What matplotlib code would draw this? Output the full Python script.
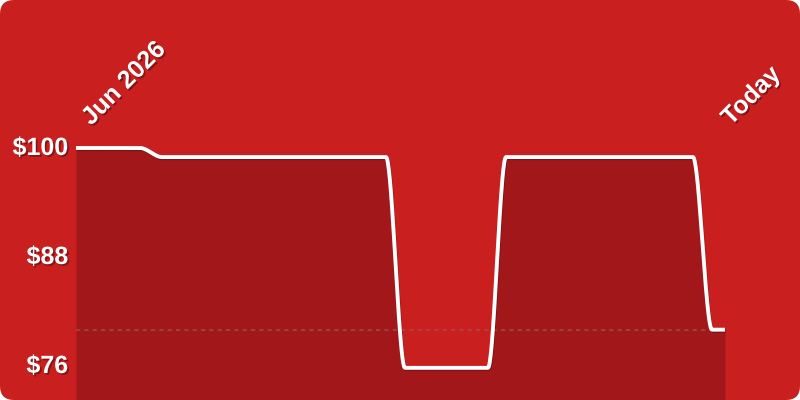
import matplotlib
matplotlib.use("Agg")
import numpy as np
import matplotlib.pyplot as plt
import matplotlib.patheffects as pe
from matplotlib.patches import FancyBboxPatch

# ---- data ----
day_index = [0, 9.86, 13.25, 47.77, 50.69, 63.48, 66.26, 95.07, 98.0, 100]
prices = [100, 100, 99, 99, 75.8, 75.8, 99, 99, 80, 80]
current_price = 80
tick_values = [100, 88, 76]
tick_labels = ["$100", "$88", "$76"]
start_label = "Jun 2026"
end_label = "Today"

BG = "#C91F1F"
FILL = "#A1171A"

plt.rcParams['font.family'] = ['Liberation Sans', 'DejaVu Sans']


def monotone_curve(x, y, n=40):
    """Render helper: monotone cubic (Fritsch-Carlson) path through the points."""
    x = np.asarray(x, float)
    y = np.asarray(y, float)
    h = np.diff(x)
    s = np.diff(y) / h
    m = np.zeros_like(y)
    m[0], m[-1] = s[0], s[-1]
    for i in range(1, len(x) - 1):
        if s[i - 1] * s[i] <= 0:
            m[i] = 0.0
        else:
            w1 = 2 * h[i] + h[i - 1]
            w2 = h[i] + 2 * h[i - 1]
            m[i] = (w1 + w2) / (w1 / s[i - 1] + w2 / s[i])
    xs, ys = [], []
    for i in range(len(x) - 1):
        t = np.linspace(0, 1, n, endpoint=(i == len(x) - 2))
        h00 = 2 * t**3 - 3 * t**2 + 1
        h10 = t**3 - 2 * t**2 + t
        h01 = -2 * t**3 + 3 * t**2
        h11 = t**3 - t**2
        xs.append(x[i] + t * h[i])
        ys.append(h00 * y[i] + h10 * h[i] * m[i] + h01 * y[i + 1] + h11 * h[i] * m[i + 1])
    return np.concatenate(xs), np.concatenate(ys)


fig = plt.figure(figsize=(8, 4), dpi=100)
fig.patch.set_facecolor("white")
bg = FancyBboxPatch((0, 0), 800, 400, boxstyle="round,pad=0,rounding_size=14",
                    transform=None, facecolor=BG, edgecolor="none", zorder=-10)
fig.patches.append(bg)

ax = fig.add_axes([0, 0, 1, 1])
ax.set_zorder(5)
ax.set_facecolor("none")
ax.set_axis_off()
ax.set_xlim(-11.71, 111.56)
ax.set_ylim(72.26, 116.29)

cx, cy = monotone_curve(day_index, prices)
ax.fill_between(cx, cy, 60, color=FILL, linewidth=0, zorder=1)
ax.plot([day_index[0], day_index[-1] - 0.8], [current_price] * 2, linestyle=(0, (2.5, 2.5)),
        color="#9a5555", linewidth=1.2, alpha=0.8, zorder=2)
ax.plot(cx, cy, color="white", linewidth=2.8, solid_joinstyle="round",
        solid_capstyle="butt", zorder=3,
        path_effects=[pe.SimpleLineShadow(offset=(0.5, -0.8), alpha=0.25), pe.Normal()])

shadow = [pe.SimplePatchShadow(offset=(1.2, -1.2), shadow_rgbFace="black", alpha=0.35), pe.Normal()]
for v, lab in zip(tick_values, tick_labels):
    ax.text(-1.2, v, lab, ha="right", va="center", color="white", fontsize=18,
            fontweight="bold", path_effects=shadow, zorder=4)

ax.text(day_index[0] + 2.3, 102.4, start_label, rotation=45, rotation_mode="anchor",
        ha="left", va="baseline", color="white", fontsize=18, fontweight="bold",
        path_effects=shadow, zorder=4)
ax.text(day_index[-1] + 0.9, 102.4, end_label, rotation=45, rotation_mode="anchor",
        ha="left", va="baseline", color="white", fontsize=18, fontweight="bold",
        path_effects=shadow, zorder=4)

fig.savefig("out.png", dpi=100, facecolor="white")
